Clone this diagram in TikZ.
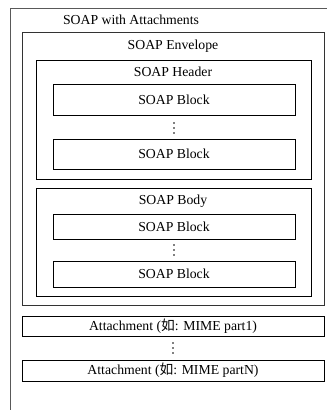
\documentclass[tikz,border=0pt]{standalone}
\usepackage{fontspec}
\setmainfont{Liberation Serif}
\newfontfamily\cjk{Noto Sans CJK SC}
\tikzset{
  frame/.style={draw, line width=0.7bp},
  blockbox/.style={frame, rectangle, minimum width=242bp, inner sep=0pt},
  attbox/.style={frame, rectangle, minimum width=302bp, inner sep=0pt},
  title/.style={inner sep=0pt},
}

\begin{document}
\begin{tikzpicture}[x=1bp, y=-1bp, font=\fontsize{13.8}{16}\selectfont]
    %%%%% START %%%%%
    \useasboundingbox (0,0) rectangle (327,410);

    % outer frame, open at the bottom
    \draw[line width=0.7bp, color=black!65] (10,411) -- (10,8) -- (327,8);
    \node[title] (swa) at (131,20) {SOAP with Attachments};

    % envelope
    \draw[frame, color=black!80] (22,32) rectangle (324,305);
    \node[title] (env) at (173,46) {SOAP Envelope};

    % header
    \draw[frame] (36,60) rectangle (311,179);
    \node[title] (hdr) at (173,72) {SOAP Header};
    \node[blockbox, minimum height=31bp] (hblk1) at (174,99.5) {SOAP Block};
    \node[blockbox, minimum height=30bp] (hblk2) at (174,154) {SOAP Block};

    % body
    \draw[frame] (36,188) rectangle (311,296);
    \node[title] (bdy) at (173,201) {SOAP Body};
    \node[blockbox, minimum height=25bp] (bblk1) at (174,226.5) {SOAP Block};
    \node[blockbox, minimum height=26bp] (bblk2) at (174,274) {SOAP Block};

    % attachments
    \node[attbox, minimum height=20bp] (att1) at (173,326) {Attachment ({\cjk 如}: MIME part1)};
    \node[attbox, minimum height=21bp] (attn) at (173,370.5) {Attachment ({\cjk 如}: MIME partN)};

    % vertical dots
    \foreach \x/\y in {174/128, 174/250, 173/348}
      \foreach \d in {-5,0,5}
        \fill (\x,\y+\d) circle (0.9);

    %%%%% END %%%%%
\end{tikzpicture}
\end{document}
